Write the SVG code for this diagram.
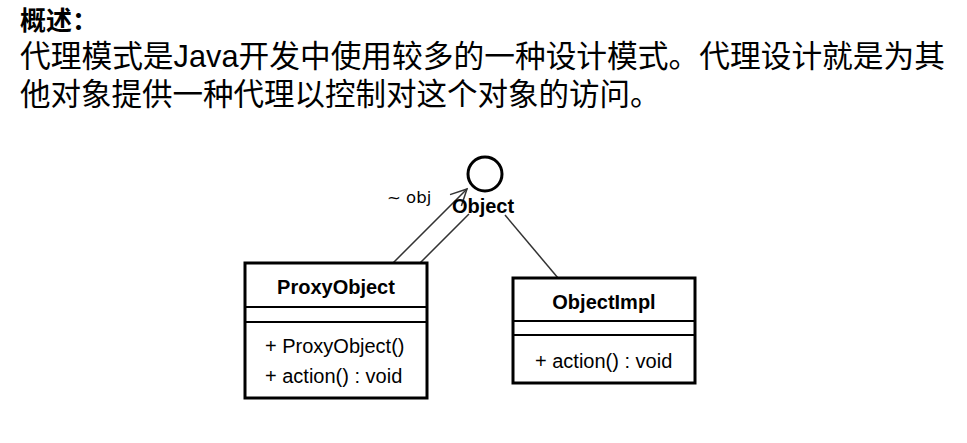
<svg xmlns="http://www.w3.org/2000/svg" width="967" height="443" viewBox="0 0 967 443">
<defs>
<style>
.cjk{font-family:"Liberation Sans","Noto Sans CJK SC",sans-serif;fill:#000}
.uml{font-family:"Liberation Sans",Arial,sans-serif;font-size:20px;fill:#000}
.b{font-weight:bold}
.box{fill:#fff;stroke:#000;stroke-width:3}
.div{stroke:#000;stroke-width:2}
.con{stroke:#333;stroke-width:1.5;fill:none}
</style>
<marker id="open" viewBox="0 0 20 20" refX="18" refY="10" markerWidth="20" markerHeight="20" markerUnits="userSpaceOnUse" orient="auto">
<path d="M2,2 L18,10 L2,18" fill="none" stroke="#333" stroke-width="1.5"/>
</marker>
</defs>
<rect width="967" height="443" fill="#fff"/>
<text class="cjk b" x="20" y="30" font-size="26">概述：</text>
<text class="cjk" x="20" y="67" font-size="30.5" textLength="925" lengthAdjust="spacingAndGlyphs">代理模式是Java开发中使用较多的一种设计模式。代理设计就是为其</text>
<text class="cjk" x="20" y="105" font-size="30.5">他对象提供一种代理以控制对这个对象的访问。</text>
<g id="connectors">
<line class="con" x1="393" y1="263" x2="467" y2="189" marker-end="url(#open)"/>
<line class="con" x1="420" y1="263" x2="469" y2="214"/>
<line class="con" x1="505" y1="215" x2="558" y2="278"/>
</g>
<g id="Object">
<circle cx="485" cy="174" r="17" fill="#fff" stroke="#000" stroke-width="3"/>
<text class="uml b" x="483" y="213" text-anchor="middle">Object</text>
</g>
<text x="387" y="203" font-family="DejaVu Sans,sans-serif" font-size="16.5" fill="#000">~ obj</text>
<g id="ProxyObject">
<rect class="box" x="245" y="263" width="182" height="135"/>
<line class="div" x1="245" y1="307" x2="427" y2="307"/>
<line class="div" x1="245" y1="322" x2="427" y2="322"/>
<text class="uml b" x="336" y="294" text-anchor="middle">ProxyObject</text>
<text class="uml" x="265" y="353">+ ProxyObject()</text>
<text class="uml" x="265" y="383">+ action() : void</text>
</g>
<g id="ObjectImpl">
<rect class="box" x="513" y="278" width="182" height="105"/>
<line class="div" x1="513" y1="321" x2="695" y2="321"/>
<line class="div" x1="513" y1="335" x2="695" y2="335"/>
<text class="uml b" x="604" y="309" text-anchor="middle">ObjectImpl</text>
<text class="uml" x="535" y="368">+ action() : void</text>
</g>
</svg>
